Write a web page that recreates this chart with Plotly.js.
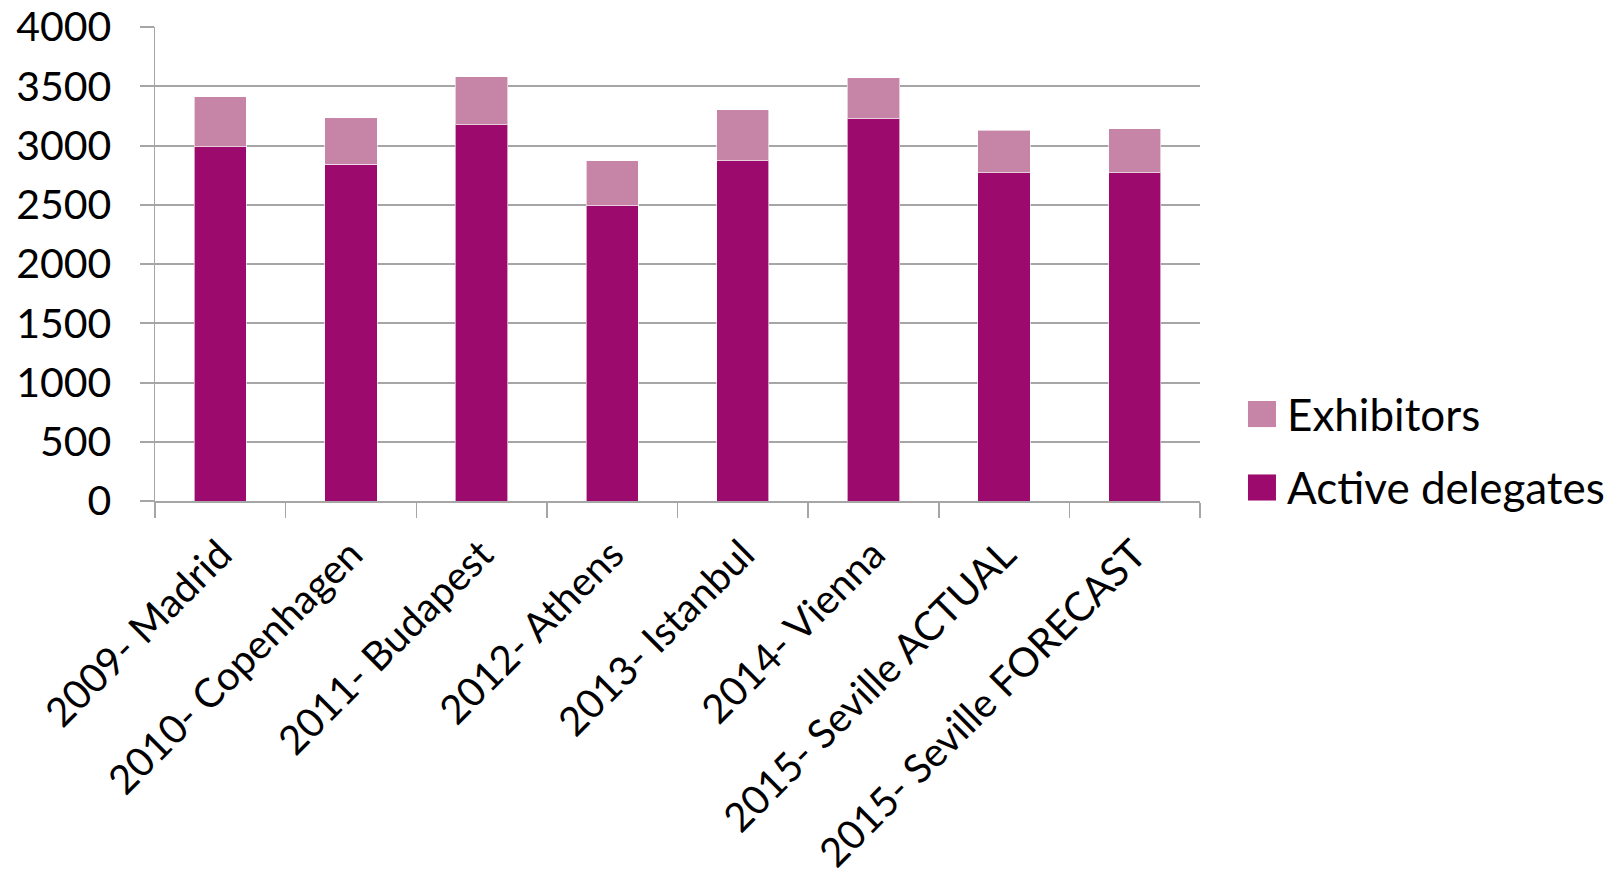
<!DOCTYPE html>
<html>
<head>
<meta charset="utf-8">
<script src="https://cdn.plot.ly/plotly-3.0.1.min.js"></script>
<style>html,body{margin:0;padding:0;background:#fff;}#chart{width:1623px;height:891px;}</style>
</head>
<body>
<div id="chart"></div>
<script>
const categories = ["2009- Madrid","2010- Copenhagen","2011- Budapest","2012- Athens","2013- Istanbul","2014- Vienna","2015- Seville ACTUAL","2015- Seville FORECAST"];
const activeDelegates = [2990, 2840, 3175, 2490, 2870, 3225, 2770, 2770];
const exhibitors = [420, 395, 405, 380, 430, 345, 360, 370];
const seriesNames = ["Exhibitors", "Active delegates"];
const seriesColors = ["#C685A6", "#9B0A6C"];
const yTicks = [0, 500, 1000, 1500, 2000, 2500, 3000, 3500, 4000];

const FONT = "Lato, 'Open Sans', sans-serif";
const GRID = "#A6A6A6";

const traces = [
  {type: "bar", name: seriesNames[1], x: categories, y: activeDelegates,
   marker: {color: seriesColors[1], line: {color: "rgba(255,255,255,0.6)", width: 1}}, showlegend: false, hoverinfo: "x+y+name"},
  {type: "bar", name: seriesNames[0], x: categories, y: exhibitors,
   marker: {color: seriesColors[0], line: {color: "rgba(255,255,255,0.6)", width: 1}}, showlegend: false, hoverinfo: "x+y+name"}
];

// manual legend (large swatches like the original)
const legY = [0.1835, 0.0285];
const shapes = [];
const annotations = [];
seriesNames.forEach((n, i) => {
  shapes.push({type: "rect", xref: "paper", yref: "paper", layer: "above",
    x0: 1.0459, x1: 1.0727, y0: legY[i] - 0.0275, y1: legY[i] + 0.0275,
    fillcolor: seriesColors[i], line: {width: 0}});
  annotations.push({xref: "paper", yref: "paper", x: 1.081, y: legY[i], xanchor: "left", yanchor: "middle",
    text: n, showarrow: false, font: {family: FONT, size: 44, color: "#000"}});
});

const layout = {
  width: 1623, height: 891,
  margin: {l: 155, r: 423, t: 27, b: 390, pad: 0},
  paper_bgcolor: "#fff", plot_bgcolor: "#fff",
  barmode: "stack", bargap: 0.6,
  showlegend: false,
  font: {family: FONT, size: 40, color: "#000"},
  xaxis: {
    type: "category", tickson: "boundaries", ticks: "outside", ticklen: 15, tickwidth: 1.5, tickcolor: GRID,
    showline: true, linecolor: GRID, linewidth: 2, showgrid: false, automargin: false,
    tickangle: -45, tickfont: {family: FONT, size: 40, color: "#000"}, ticklabelstandoff: 12
  },
  yaxis: {
    range: [0, 4000], tickvals: yTicks, ticktext: yTicks.map(String), automargin: false,
    ticks: "outside", ticklen: 14, tickwidth: 2, tickcolor: GRID,
    showline: true, linecolor: GRID, linewidth: 1.5,
    showgrid: true, gridcolor: GRID, gridwidth: 2, zeroline: false,
    tickfont: {family: FONT, size: 41, color: "#000"}, ticklabelstandoff: 20
  },
  shapes: shapes,
  annotations: annotations
};

Plotly.newPlot("chart", traces, layout, {displayModeBar: false, staticPlot: true});
</script>
</body>
</html>
